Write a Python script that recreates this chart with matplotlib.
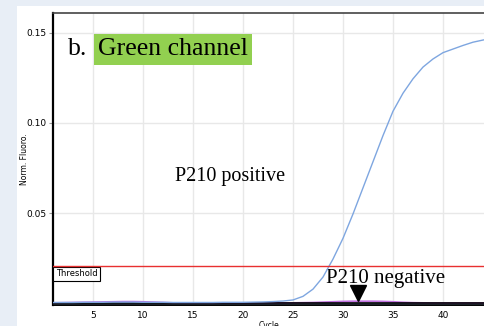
import numpy as np
import matplotlib.pyplot as plt
from matplotlib.patches import Rectangle

# cycles 1..45
cycles = np.arange(1, 46)

# P210 positive sample (blue curve)
positive = [0.0004, 0.0004, 0.0004, 0.0005, 0.0005, 0.0005, 0.0006, 0.0006, 0.0006, 0.0005,
            0.0005, 0.0005, 0.0004, 0.0004, 0.0004, 0.0004, 0.0004, 0.0005, 0.0005, 0.0005,
            0.0006, 0.0007, 0.0009, 0.0012, 0.0018, 0.0038, 0.0078, 0.0145, 0.0245, 0.0360,
            0.0495, 0.0640, 0.0785, 0.0930, 0.1065, 0.1165, 0.1245, 0.1310, 0.1355, 0.1390,
            0.1410, 0.1430, 0.1448, 0.1460, 0.1470]

# negative samples (near zero)
neg_magenta = [0.0002, 0.0003, 0.0004, 0.0005, 0.0006, 0.0007, 0.0008, 0.0009, 0.0009, 0.0008,
               0.0006, 0.0004, 0.0002, 0.0001, 0.0001, 0.0001, 0.0001, 0.0002, 0.0002, 0.0002,
               0.0002, 0.0002, 0.0002, 0.0002, 0.0002, 0.0003, 0.0004, 0.0006, 0.0008, 0.0010,
               0.0011, 0.0011, 0.0011, 0.0010, 0.0008, 0.0005, 0.0003, 0.0002, 0.0001, 0.0001,
               0.0001, 0.0001, 0.0001, 0.0001, 0.0001]
neg_grey = [0.0001] * 45
neg_black = [0.0] * 45

threshold = 0.0206

fig = plt.figure(figsize=(4.85, 3.26), dpi=100)
fig.patch.set_facecolor('#e8eef6')
fig.patches.append(Rectangle((17 / 485, 0), 1, 320 / 326, transform=fig.transFigure,
                             facecolor='white', edgecolor='none', zorder=-1))

ax = fig.add_axes([53 / 485, 21 / 326, 1 - 53 / 485, 292 / 326])
ax.set_zorder(1)
ax.set_xlim(1, 44.2)
ax.set_ylim(-0.001, 0.161)

ax.plot(cycles, neg_grey, color='#6f8fb0', lw=1.0, zorder=3)
ax.plot(cycles, neg_magenta, color='#c070e0', lw=1.2, zorder=3)
ax.plot(cycles, neg_black, color='black', lw=1.2, zorder=3)
ax.plot(cycles, positive, color='#7ea6e0', lw=1.0, zorder=4)
ax.axhline(threshold, color='#e83030', lw=1.0, zorder=4)

ax.set_xticks([5, 10, 15, 20, 25, 30, 35, 40])
ax.set_yticks([0.05, 0.10, 0.15])
ax.set_yticklabels(['0.05', '0.10', '0.15'])
ax.grid(True, color='#e8e8e8', lw=1.0)
ax.set_axisbelow(True)
ax.tick_params(axis='x', length=0, labelsize=6.5, pad=4)
ax.tick_params(axis='y', length=3, color='#999999', labelsize=6.5, pad=2)

for s in ['right']:
    ax.spines[s].set_visible(False)
ax.spines['top'].set_color('#444444')
ax.spines['top'].set_linewidth(1.2)
ax.spines['left'].set_linewidth(1.6)
ax.spines['bottom'].set_linewidth(1.4)

ax.set_ylabel('Norm. Fluoro.', fontsize=5.5, labelpad=-2)
ax.set_xlabel('Cycle', fontsize=5.5, labelpad=1)

serif = 'Liberation Serif'
ax.text(2.5, 0.1408, 'b.', fontsize=18.5, family=serif, va='center')
ax.text(5.5, 0.1408, 'Green channel', fontsize=18.5, family=serif, va='center',
        bbox=dict(facecolor='#92d050', edgecolor='none', pad=3))
ax.text(13.2, 0.0705, 'P210 positive', fontsize=14.5, family=serif, va='center')
ax.text(28.3, 0.0135, 'P210 negative', fontsize=15, family=serif, va='center')
ax.plot([31.5], [0.0055], marker='v', color='black', ms=11, zorder=5)
ax.text(1.3, 0.0163, 'Threshold', fontsize=6, va='center',
        bbox=dict(facecolor='white', edgecolor='black', lw=0.8, pad=1.8))

fig.savefig('out.png', dpi=100)
